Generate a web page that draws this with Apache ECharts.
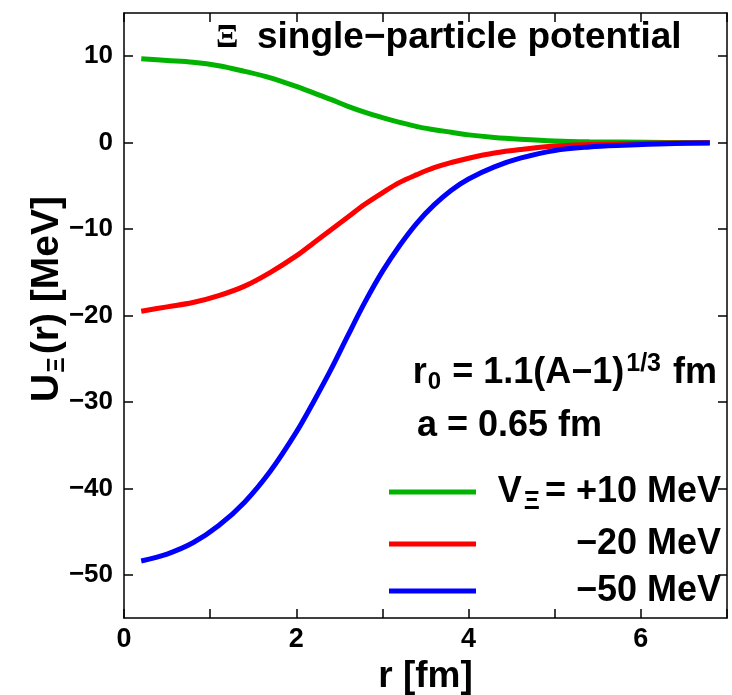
<!DOCTYPE html>
<html>
<head>
<meta charset="utf-8">
<script src="https://cdn.jsdelivr.net/npm/echarts@6/dist/echarts.min.js"></script>
<style>
  html, body { margin: 0; padding: 0; background: #fff; }
  #chart { width: 732px; height: 695px; }
</style>
</head>
<body>
<div id="chart"></div>
<script>
// r 取点 (fm)
var rValues = [0.2, 0.5, 0.8, 1.1, 1.4, 1.7, 2.0, 2.2, 2.4, 2.6, 2.8, 3.0, 3.2, 3.4, 3.6, 3.8, 4.0, 4.3, 4.6, 5.0, 5.4, 5.8, 6.3, 6.8];
// U(r) 从图上读出 (MeV)
var uPlus10 = [9.7, 9.5, 9.3, 8.9, 8.25, 7.5, 6.5, 5.75, 5.0, 4.2, 3.5, 2.9, 2.35, 1.85, 1.5, 1.2, 0.9, 0.6, 0.4, 0.2, 0.1, 0.07, 0.03, 0.01];
var uMinus20 = [-19.5, -19.0, -18.5, -17.7, -16.6, -15.0, -13.1, -11.6, -10.1, -8.6, -7.1, -5.8, -4.6, -3.7, -2.9, -2.3, -1.8, -1.2, -0.8, -0.4, -0.22, -0.12, -0.05, -0.02];
var uMinus50 = [-48.4, -47.6, -46.3, -44.3, -41.6, -38.0, -33.5, -30.0, -26.3, -22.3, -18.4, -14.9, -11.9, -9.3, -7.2, -5.5, -4.2, -2.8, -1.8, -0.9, -0.5, -0.3, -0.12, -0.05];

var seriesNames = ['+10', '-20', '-50'];
var seriesColors = ['#00b300', '#ff0000', '#0000ff'];

var xTicks = [0, 1, 2, 3, 4, 5, 6, 7];
var xLabels = [0, 2, 4, 6];
var yTicks = [-50, -40, -30, -20, -10, 0, 10];

var FONT = "'Liberation Sans', Arial, sans-serif";

function toPairs(xs, ys) {
    var out = [];
    for (var i = 0; i < xs.length; i++) {
        out.push([xs[i], ys[i]]);
    }
    return out;
}

function minusFmt(v) {
    return v < 0 ? '\u2212' + (-v) : String(v);
}

function lineSeries(idx, values) {
    return {
        name: seriesNames[idx], type: 'line', xAxisIndex: 0, yAxisIndex: 0,
        data: toPairs(rValues, values), smooth: 0.35, symbol: 'none',
        color: seriesColors[idx], lineStyle: { width: 5, color: seriesColors[idx] }
    };
}

var axisLine = { show: true, onZero: false, lineStyle: { color: '#000', width: 1.5 } };
var tickStyle = { color: '#000', width: 1.5 };

var myChart = echarts.init(document.getElementById('chart'), null, { renderer: 'canvas' });

var option = {
    animation: false,
    backgroundColor: '#fff',
    // v6 默认会按外边界收缩 grid，这里关掉
    grid: { left: 124, right: 5, top: 13, bottom: 77, containLabel: false, outerBoundsMode: 'none' },
    legend: {
        orient: 'vertical',
        left: 384,
        top: 463,
        itemWidth: 87,
        itemHeight: 5,
        itemGap: 11,
        icon: 'rect',
        selectedMode: false,
        data: seriesNames,
        formatter: function (name) {
            if (name === '+10') {
                return '{m|V}{s|\u039e}{m|= +10 MeV}';
            }
            return '{m|\u2212' + name.substring(1) + ' MeV}';
        },
        textStyle: {
            width: 240,
            overflow: 'none',
            rich: {
                m: { fontFamily: FONT, fontWeight: 'bold', fontSize: 36, color: '#000', lineHeight: 46, align: 'right' },
                s: { fontFamily: FONT, fontWeight: 'bold', fontSize: 25, color: '#000', lineHeight: 24, verticalAlign: 'bottom', align: 'right', padding: [22, 5, 0, 2] }
            }
        }
    },
    xAxis: [
        {
            type: 'value', min: 0, max: 7, position: 'bottom',
            name: 'r [fm]', nameLocation: 'middle', nameGap: 40,
            nameTextStyle: { fontFamily: FONT, fontWeight: 'bold', fontSize: 37, color: '#000' },
            axisLine: axisLine,
            axisTick: { show: true, inside: true, length: 9, customValues: xTicks, lineStyle: tickStyle },
            axisLabel: { show: true, customValues: xLabels, margin: 8, fontFamily: FONT, fontWeight: 'bold', fontSize: 27, color: '#000' },
            splitLine: { show: false }
        },
        {
            type: 'value', min: 0, max: 7, position: 'top',
            axisLine: axisLine,
            axisTick: { show: true, inside: true, length: 9, customValues: xTicks, lineStyle: tickStyle },
            axisLabel: { show: false },
            splitLine: { show: false }
        }
    ],
    yAxis: [
        {
            type: 'value', min: -55, max: 15, position: 'left',
            axisLine: axisLine,
            axisTick: { show: true, inside: true, length: 9, customValues: yTicks, lineStyle: tickStyle },
            axisLabel: { show: true, customValues: yTicks, margin: 11, formatter: minusFmt, fontFamily: FONT, fontWeight: 'bold', fontSize: 26, color: '#000' },
            splitLine: { show: false }
        },
        {
            type: 'value', min: -55, max: 15, position: 'right',
            axisLine: axisLine,
            axisTick: { show: true, inside: true, length: 9, customValues: yTicks, lineStyle: tickStyle },
            axisLabel: { show: false },
            splitLine: { show: false }
        }
    ],
    graphic: [
        // y 轴标题
        {
            type: 'text', x: 47, y: 299, rotation: Math.PI / 2,
            style: {
                text: '{u|U}{s|\u039e}{u|(r) [MeV]}',
                align: 'center', verticalAlign: 'middle',
                rich: {
                    u: { fontFamily: FONT, fontWeight: 'bold', fontSize: 39, fill: '#000', lineHeight: 44 },
                    s: { fontFamily: FONT, fontWeight: 'bold', fontSize: 24, fill: '#000', lineHeight: 24, verticalAlign: 'bottom', padding: [28, 3, 0, 1] }
                }
            }
        },
        {
            type: 'text', x: 216, y: 38,
            style: { text: '\u039e', font: "bold 33px 'Liberation Serif', serif", fill: '#000', align: 'left', verticalAlign: 'middle' }
        },
        {
            type: 'text', x: 257, y: 38,
            style: { text: 'single\u2212particle potential', font: 'bold 37px ' + FONT, fill: '#000', align: 'left', verticalAlign: 'middle' }
        },
        {
            type: 'text', x: 717, y: 373,
            style: {
                text: '{m|r}{sb|0}{m| = 1.1(A\u22121)}{sp|1/3}{m| fm}',
                align: 'right', verticalAlign: 'middle',
                rich: {
                    m: { fontFamily: FONT, fontWeight: 'bold', fontSize: 36, fill: '#000', lineHeight: 42 },
                    sb: { fontFamily: FONT, fontWeight: 'bold', fontSize: 24, fill: '#000', lineHeight: 24, verticalAlign: 'bottom', padding: [30, 1, 0, 1] },
                    sp: { fontFamily: FONT, fontWeight: 'bold', fontSize: 25, fill: '#000', lineHeight: 24, verticalAlign: 'top', padding: [0, 2, 30, 2] }
                }
            }
        },
        {
            type: 'text', x: 417, y: 426,
            style: { text: 'a = 0.65 fm', font: 'bold 36px ' + FONT, fill: '#000', align: 'left', verticalAlign: 'middle' }
        }
    ],
    series: [
        lineSeries(0, uPlus10),
        lineSeries(1, uMinus20),
        lineSeries(2, uMinus50)
    ]
};

myChart.setOption(option);
</script>
</body>
</html>
